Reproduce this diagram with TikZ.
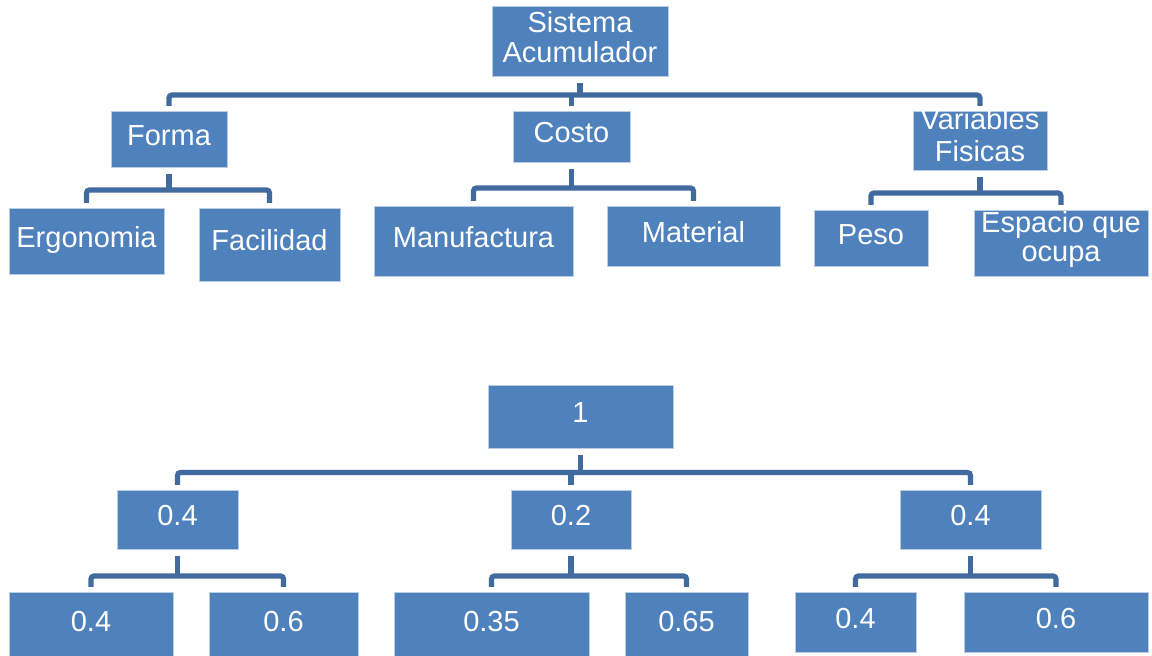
\documentclass[tikz,border=0pt]{standalone}
\usepackage{fontspec}
\setmainfont{Liberation Sans}
\usetikzlibrary{calc}
\definecolor{boxfill}{HTML}{4F81BD}
\definecolor{boxedge}{HTML}{B9CDE5}
\definecolor{barcol}{HTML}{416A9E}
\tikzset{blk/.style={draw=boxedge, line width=.5pt, fill=boxfill, text=white,
    inner sep=0pt, outer sep=0pt, font=\fontsize{14.5}{15}\selectfont,
    text height=10pt, text depth=4.5pt}}
\tikzset{blktwo/.style={blk, align=center, text depth=4pt}}
\tikzset{bar/.style={draw=barcol, line width=2.6pt, rounded corners=1.5pt}}
\begin{document}
\begin{tikzpicture}[x=0.5pt, y=-0.5pt]
  \useasboundingbox (0,0) rectangle (1152,656);
  % criterios
  \node[blktwo, minimum width=88pt, minimum height=35pt, text height=25pt] (sist) at (580,42) {Sistema\\Acumulador};
  \node[blk, minimum width=58pt, minimum height=28pt] (forma) at (169,140) {Forma};
  \node[blk, minimum width=58.5pt, minimum height=25.5pt] (costo) at (571.5,137.5) {Costo};
  \node[blktwo, minimum width=67pt, minimum height=29.5pt, text height=24.5pt,
    font=\fontsize{14.5}{16}\selectfont] (vars) at (980,141.5) {Variables\\Fisicas};
  \node[blk, minimum width=77.5pt, minimum height=33pt] (ergo) at (86.5,242) {Ergonomia};
  \node[blk, minimum width=70.5pt, minimum height=36.5pt] (faci) at (269.5,245.5) {Facilidad};
  \node[blk, minimum width=99.5pt, minimum height=35pt] (manuf) at (473.5,242) {Manufactura};
  \node[blk, minimum width=86.5pt, minimum height=30pt] (mater) at (693.5,237) {Material};
  \node[blk, minimum width=57pt, minimum height=28pt] (peso) at (871,239) {Peso};
  \node[blktwo, minimum width=87pt, minimum height=33pt, text height=22pt,
    font=\fontsize{14.5}{14.5}\selectfont] (espac) at (1061,244) {Espacio que\\ocupa};

  \draw[bar] ($(sist.south)+(0,6)$) -- ++(0,12);
  \draw[bar] ($(forma.north)+(0,-6)$) |- ($(vars.north)+(0,-17)$) -- ($(vars.north)+(0,-6)$);
  \draw[bar] ($(costo.north)+(0,-17)$) -- ($(costo.north)+(0,-6)$);

  \draw[bar] ($(forma.south)+(0,6)$) -- ++(0,16);
  \draw[bar] ($(ergo.north)+(0,-6)$) |- ($(faci.north)+(0,-19)$) -- ($(faci.north)+(0,-6)$);
  \draw[bar] ($(costo.south)+(0,6)$) -- ++(0,19);
  \draw[bar] ($(manuf.north)+(0,-6)$) |- ($(mater.north)+(0,-19)$) -- ($(mater.north)+(0,-6)$);
  \draw[bar] ($(vars.south)+(0,6)$) -- ++(0,16);
  \draw[bar] ($(peso.north)+(0,-6)$) |- ($(espac.north)+(0,-18)$) -- ($(espac.north)+(0,-6)$);

  % pesos
  \node[blk, minimum width=92.5pt, minimum height=31.5pt] (one) at (580.5,417.5) {1};
  \node[blk, minimum width=60.5pt, minimum height=29.5pt] (wa) at (177.5,520.5) {0.4};
  \node[blk, minimum width=60pt, minimum height=29.5pt] (wb) at (571,520.5) {0.2};
  \node[blk, minimum width=70.5pt, minimum height=29.5pt] (wc) at (970.5,520.5) {0.4};
  \node[blk, minimum width=82pt, minimum height=33.5pt] (la) at (91,626.5) {0.4};
  \node[blk, minimum width=74.5pt, minimum height=33.5pt] (lb) at (283.5,626.5) {0.6};
  \node[blk, minimum width=97.5pt, minimum height=33.5pt] (lc) at (491.5,626.5) {0.35};
  \node[blk, minimum width=61.5pt, minimum height=33.5pt] (ld) at (686.5,626.5) {0.65};
  \node[blk, minimum width=60.5pt, minimum height=30pt] (le) at (855.5,623) {0.4};
  \node[blk, minimum width=92pt, minimum height=30pt] (lf) at (1056,623) {0.6};

  \draw[bar] ($(one.south)+(0,6)$) -- ++(0,17.5);
  \draw[bar] ($(wa.north)+(0,-6)$) |- ($(wc.north)+(0,-18.5)$) -- ($(wc.north)+(0,-6)$);
  \draw[bar] ($(wb.north)+(0,-18.5)$) -- ($(wb.north)+(0,-6)$);

  \draw[bar] ($(wa.south)+(0,6)$) -- ++(0,20);
  \draw[bar] ($(la.north)+(0,-6)$) |- ($(lb.north)+(0,-17)$) -- ($(lb.north)+(0,-6)$);
  \draw[bar] ($(wb.south)+(0,6)$) -- ++(0,20);
  \draw[bar] ($(lc.north)+(0,-6)$) |- ($(ld.north)+(0,-17)$) -- ($(ld.north)+(0,-6)$);
  \draw[bar] ($(wc.south)+(0,6)$) -- ++(0,20);
  \draw[bar] ($(le.north)+(0,-6)$) |- ($(lf.north)+(0,-17)$) -- ($(lf.north)+(0,-6)$);
\end{tikzpicture}
\end{document}
